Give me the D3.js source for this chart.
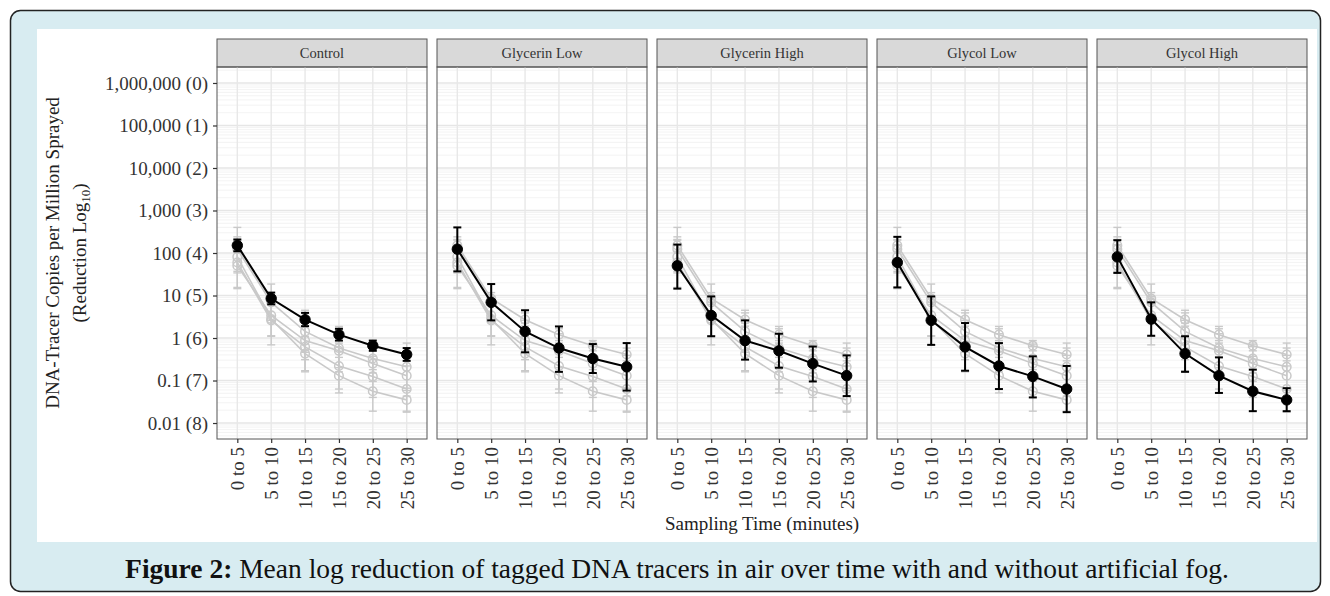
<!DOCTYPE html>
<html>
<head>
<meta charset="utf-8">
<script src="https://cdn.jsdelivr.net/npm/d3@7"></script>
<style>
body { margin: 0; background: #fff; }
svg { display: block; }
</style>
</head>
<body>
<div id="chart"></div>
<script>
// data
var times = ['0 to 5', '5 to 10', '10 to 15', '15 to 20', '20 to 25', '25 to 30'];
var treatments = ['Control', 'Glycerin Low', 'Glycerin High', 'Glycol Low', 'Glycol High'];

// mean copies per million sprayed, one array per treatment
var controlMean = [151, 8.5, 2.7, 1.2, 0.66, 0.41];
var glycerinLowMean = [123, 6.9, 1.43, 0.58, 0.33, 0.21];
var glycerinHighMean = [50, 3.4, 0.87, 0.50, 0.25, 0.13];
var glycolLowMean = [60, 2.6, 0.62, 0.22, 0.125, 0.063];
var glycolHighMean = [81, 2.8, 0.43, 0.13, 0.056, 0.035];

// error bar limits
var controlLow = [110, 6.2, 1.9, 0.87, 0.50, 0.29];
var controlHigh = [208, 11.7, 3.9, 1.65, 0.87, 0.58];
var glycerinLowLow = [37, 2.6, 0.46, 0.16, 0.15, 0.058];
var glycerinLowHigh = [400, 18.6, 4.5, 1.87, 0.72, 0.76];
var glycerinHighLow = [14.5, 1.1, 0.31, 0.20, 0.095, 0.043];
var glycerinHighHigh = [158, 9.5, 2.6, 1.26, 0.63, 0.39];
var glycolLowLow = [15.5, 0.69, 0.17, 0.063, 0.040, 0.018];
var glycolLowHigh = [240, 9.5, 2.25, 0.76, 0.37, 0.22];
var glycolHighLow = [34, 1.13, 0.16, 0.051, 0.019, 0.019];
var glycolHighHigh = [200, 6.9, 1.1, 0.35, 0.18, 0.066];

var yTicks = [1e6, 1e5, 1e4, 1e3, 100, 10, 1, 0.1, 0.01];
var yTickLabels = ['1,000,000 (0)', '100,000 (1)', '10,000 (2)', '1,000 (3)', '100 (4)',
                   '10 (5)', '1 (6)', '0.1 (7)', '0.01 (8)'];

var means = [controlMean, glycerinLowMean, glycerinHighMean, glycolLowMean, glycolHighMean];
var lows = [controlLow, glycerinLowLow, glycerinHighLow, glycolLowLow, glycolHighLow];
var highs = [controlHigh, glycerinLowHigh, glycerinHighHigh, glycolLowHigh, glycolHighHigh];

var series = treatments.map(function (t, k) {
    return {
        name: t,
        points: times.map(function (tm, i) {
            return { time: tm, mean: means[k][i], lo: lows[k][i], hi: highs[k][i] };
        })
    };
});

// layout
var W = 1330, H = 596;
var panelW = 210, panelGap = 10, panelLeft = 217;
var stripTop = 39, plotTop = 67, plotBottom = 439;
var serif = '"Liberation Serif", "DejaVu Serif", serif';

var svg = d3.select('#chart').append('svg')
    .attr('width', W)
    .attr('height', H);

// frame
svg.append('rect')
    .attr('x', 10.5).attr('y', 10.5)
    .attr('width', 1310).attr('height', 581)
    .attr('rx', 10)
    .attr('fill', '#d8ecf1')
    .attr('stroke', '#222')
    .attr('stroke-width', 1.5);

svg.append('rect')
    .attr('x', 37).attr('y', 29)
    .attr('width', 1280).attr('height', 513)
    .attr('fill', '#fff');

// scales
var y = d3.scaleLog()
    .domain([Math.pow(10, -2.376), Math.pow(10, 6.376)])
    .range([plotBottom, plotTop]);

var x = d3.scalePoint()
    .domain(times)
    .range([0, panelW])
    .padding(0.6);

// minor breaks 2..9 in each decade
var minor = [];
for (var e = -3; e <= 6; e++) {
    for (var m = 2; m <= 9; m++) {
        var v = m * Math.pow(10, e);
        if (v > y.domain()[0] && v < y.domain()[1]) minor.push(v);
    }
}

var line = d3.line()
    .x(function (d) { return x(d.time); })
    .y(function (d) { return y(d.mean); });

treatments.forEach(function (name, p) {
    var g = svg.append('g')
        .attr('transform', 'translate(' + (panelLeft + p * (panelW + panelGap)) + ',0)');

    // strip
    g.append('rect')
        .attr('x', 0).attr('y', stripTop)
        .attr('width', panelW).attr('height', plotTop - stripTop)
        .attr('fill', '#d9d9d9')
        .attr('stroke', '#555')
        .attr('stroke-width', 1);
    g.append('text')
        .attr('x', panelW / 2).attr('y', (stripTop + plotTop) / 2)
        .attr('dy', '0.35em')
        .attr('text-anchor', 'middle')
        .attr('font-family', serif)
        .attr('font-size', 14.5)
        .attr('fill', '#333')
        .text(name);

    // grid
    g.selectAll('.minor').data(minor).enter().append('line')
        .attr('x1', 0).attr('x2', panelW)
        .attr('y1', function (d) { return y(d); })
        .attr('y2', function (d) { return y(d); })
        .attr('stroke', '#f0f0f0')
        .attr('stroke-width', 0.8);
    g.selectAll('.major').data(yTicks).enter().append('line')
        .attr('x1', 0).attr('x2', panelW)
        .attr('y1', function (d) { return y(d); })
        .attr('y2', function (d) { return y(d); })
        .attr('stroke', '#e6e6e6')
        .attr('stroke-width', 1.4);
    g.selectAll('.vgrid').data(times).enter().append('line')
        .attr('x1', function (d) { return x(d); })
        .attr('x2', function (d) { return x(d); })
        .attr('y1', plotTop).attr('y2', plotBottom)
        .attr('stroke', '#e8e8e8')
        .attr('stroke-width', 1.4);

    // other treatments in grey, this one in black on top
    var order = series.filter(function (s, k) { return k !== p; });
    order.push(series[p]);

    order.forEach(function (s) {
        var on = s.name === name;
        var col = on ? '#000' : '#c9c9c9';

        g.append('path')
            .datum(s.points)
            .attr('d', line)
            .attr('fill', 'none')
            .attr('stroke', col)
            .attr('stroke-width', on ? 2 : 1.6);

        var eb = g.append('g');
        eb.selectAll('.bar').data(s.points).enter().append('line')
            .attr('x1', function (d) { return x(d.time); })
            .attr('x2', function (d) { return x(d.time); })
            .attr('y1', function (d) { return y(d.lo); })
            .attr('y2', function (d) { return y(d.hi); })
            .attr('stroke', col).attr('stroke-width', on ? 2 : 1.4);
        ['lo', 'hi'].forEach(function (k) {
            eb.selectAll('.cap' + k).data(s.points).enter().append('line')
                .attr('x1', function (d) { return x(d.time) - 4; })
                .attr('x2', function (d) { return x(d.time) + 4; })
                .attr('y1', function (d) { return y(d[k]); })
                .attr('y2', function (d) { return y(d[k]); })
                .attr('stroke', col).attr('stroke-width', on ? 2 : 1.4);
        });

        g.selectAll('.pt').data(s.points).enter().append('circle')
            .attr('cx', function (d) { return x(d.time); })
            .attr('cy', function (d) { return y(d.mean); })
            .attr('r', on ? 5.2 : 4.3)
            .attr('fill', on ? '#000' : 'none')
            .attr('stroke', col)
            .attr('stroke-width', on ? 1 : 1.5);
    });

    // border
    g.append('rect')
        .attr('x', 0).attr('y', plotTop)
        .attr('width', panelW).attr('height', plotBottom - plotTop)
        .attr('fill', 'none')
        .attr('stroke', '#555')
        .attr('stroke-width', 1);

    // x axis
    var xa = g.append('g')
        .attr('transform', 'translate(0,' + plotBottom + ')')
        .call(d3.axisBottom(x).tickSize(4).tickPadding(0));
    xa.select('.domain').remove();
    xa.selectAll('.tick line').attr('stroke', '#333').attr('stroke-width', 1.2);
    xa.selectAll('.tick text')
        .attr('font-family', serif)
        .attr('font-size', 19)
        .attr('fill', '#333')
        .attr('text-anchor', 'end')
        .attr('transform', 'rotate(-90)')
        .attr('x', -8)
        .attr('y', 0)
        .attr('dy', '0.35em');
});

// y axis on first panel
var ya = svg.append('g')
    .attr('transform', 'translate(' + panelLeft + ',0)')
    .call(d3.axisLeft(y).tickValues(yTicks).tickSize(4).tickPadding(5)
        .tickFormat(function (d, i) { return yTickLabels[i]; }));
ya.select('.domain').remove();
ya.selectAll('.tick line').attr('stroke', '#333').attr('stroke-width', 1.2);
ya.selectAll('.tick text')
    .attr('font-family', serif)
    .attr('font-size', 19)
    .attr('fill', '#333');

// axis titles
var midY = (plotTop + plotBottom) / 2;
var yt = svg.append('text')
    .attr('transform', 'translate(59,' + midY + ') rotate(-90)')
    .attr('text-anchor', 'middle')
    .attr('font-family', serif)
    .attr('font-size', 19)
    .attr('fill', '#222');
yt.append('tspan').attr('x', 0).attr('y', 0).text('DNA-Tracer Copies per Million Sprayed');
var yt2 = svg.append('text')
    .attr('transform', 'translate(86,' + midY + ') rotate(-90)')
    .attr('text-anchor', 'middle')
    .attr('font-family', serif)
    .attr('font-size', 19)
    .attr('fill', '#222');
yt2.append('tspan').text('(Reduction Log');
yt2.append('tspan').attr('font-size', 13).attr('dy', 4).text('10');
yt2.append('tspan').attr('dy', -4).text(')');

var panelsMid = panelLeft + (5 * panelW + 4 * panelGap) / 2;
svg.append('text')
    .attr('x', panelsMid).attr('y', 530)
    .attr('text-anchor', 'middle')
    .attr('font-family', serif)
    .attr('font-size', 19)
    .attr('fill', '#222')
    .text('Sampling Time (minutes)');

// caption
var cap = svg.append('text')
    .attr('x', 677).attr('y', 578)
    .attr('text-anchor', 'middle')
    .attr('font-family', serif)
    .attr('font-size', 27.5)
    .attr('fill', '#111');
cap.append('tspan').attr('font-weight', 'bold').text('Figure 2:');
cap.append('tspan').text(' Mean log reduction of tagged DNA tracers in air over time with and without artificial fog.');
</script>
</body>
</html>
